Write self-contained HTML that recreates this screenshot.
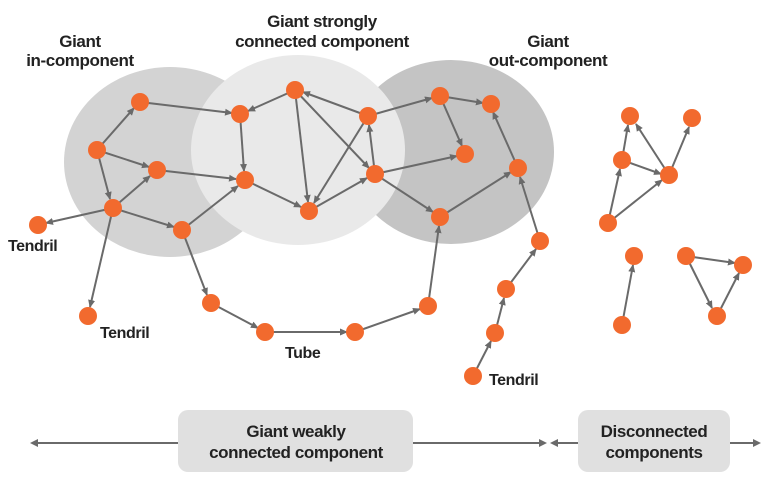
<!DOCTYPE html>
<html><head><meta charset="utf-8"><style>
html,body{margin:0;padding:0;background:#fff;width:772px;height:483px;overflow:hidden}
svg{display:block}
text{font-family:"Liberation Sans Narrow","Liberation Sans",sans-serif;font-weight:bold;fill:#222;letter-spacing:-0.4px}
</style></head><body>
<svg width="772" height="483" viewBox="0 0 772 483" xmlns="http://www.w3.org/2000/svg">
<defs>
<marker id="a" markerWidth="8" markerHeight="8" refX="7" refY="4" orient="auto" markerUnits="userSpaceOnUse">
<path d="M0,0.5 L8,4 L0,7.5 Z" fill="#6a6a6a"/></marker>
</defs>
<ellipse cx="170" cy="162" rx="106" ry="95" fill="#d3d3d3"/>
<ellipse cx="451" cy="152" rx="103" ry="92" fill="#c4c4c4"/>
<ellipse cx="298" cy="150" rx="107" ry="95" fill="#e9e9e9"/>
<g stroke="#6a6a6a" stroke-width="2" fill="none" marker-end="url(#a)">
<line x1="97" y1="150" x2="134" y2="108"/>
<line x1="140" y1="102" x2="232" y2="113"/>
<line x1="97" y1="150" x2="149" y2="167"/>
<line x1="97" y1="150" x2="110" y2="199"/>
<line x1="113" y1="208" x2="150" y2="176"/>
<line x1="157" y1="170" x2="236" y2="179"/>
<line x1="113" y1="208" x2="46" y2="223"/>
<line x1="113" y1="208" x2="174" y2="227"/>
<line x1="182" y1="230" x2="238" y2="186"/>
<line x1="113" y1="208" x2="90" y2="307"/>
<line x1="182" y1="230" x2="207" y2="295"/>
<line x1="240" y1="114" x2="244" y2="171"/>
<line x1="295" y1="90" x2="248" y2="111"/>
<line x1="295" y1="90" x2="308" y2="202"/>
<line x1="295" y1="90" x2="369" y2="168"/>
<line x1="368" y1="116" x2="303" y2="92"/>
<line x1="375" y1="174" x2="369" y2="125"/>
<line x1="368" y1="116" x2="314" y2="203"/>
<line x1="309" y1="211" x2="367" y2="178"/>
<line x1="245" y1="180" x2="301" y2="207"/>
<line x1="368" y1="116" x2="432" y2="98"/>
<line x1="440" y1="96" x2="483" y2="103"/>
<line x1="440" y1="96" x2="462" y2="146"/>
<line x1="375" y1="174" x2="457" y2="156"/>
<line x1="375" y1="174" x2="433" y2="212"/>
<line x1="440" y1="217" x2="511" y2="172"/>
<line x1="518" y1="168" x2="493" y2="112"/>
<line x1="540" y1="241" x2="520" y2="177"/>
<line x1="506" y1="289" x2="536" y2="249"/>
<line x1="495" y1="333" x2="504" y2="298"/>
<line x1="473" y1="376" x2="491" y2="341"/>
<line x1="211" y1="303" x2="258" y2="328"/>
<line x1="265" y1="332" x2="347" y2="332"/>
<line x1="355" y1="332" x2="420" y2="309"/>
<line x1="428" y1="306" x2="439" y2="226"/>
<line x1="622" y1="160" x2="628" y2="125"/>
<line x1="669" y1="175" x2="636" y2="124"/>
<line x1="622" y1="160" x2="661" y2="174"/>
<line x1="608" y1="223" x2="620" y2="169"/>
<line x1="608" y1="223" x2="662" y2="180"/>
<line x1="669" y1="175" x2="689" y2="127"/>
<line x1="622" y1="325" x2="633" y2="265"/>
<line x1="686" y1="256" x2="735" y2="263"/>
<line x1="686" y1="256" x2="712" y2="308"/>
<line x1="717" y1="316" x2="739" y2="273"/>
</g>
<g fill="#f26a2e">
<circle cx="140" cy="102" r="9"/><circle cx="97" cy="150" r="9"/><circle cx="157" cy="170" r="9"/>
<circle cx="113" cy="208" r="9"/><circle cx="38" cy="225" r="9"/><circle cx="182" cy="230" r="9"/>
<circle cx="240" cy="114" r="9"/><circle cx="245" cy="180" r="9"/><circle cx="295" cy="90" r="9"/>
<circle cx="368" cy="116" r="9"/><circle cx="309" cy="211" r="9"/><circle cx="375" cy="174" r="9"/>
<circle cx="440" cy="96" r="9"/><circle cx="491" cy="104" r="9"/><circle cx="465" cy="154" r="9"/>
<circle cx="518" cy="168" r="9"/><circle cx="440" cy="217" r="9"/><circle cx="88" cy="316" r="9"/>
<circle cx="211" cy="303" r="9"/><circle cx="265" cy="332" r="9"/><circle cx="355" cy="332" r="9"/>
<circle cx="428" cy="306" r="9"/><circle cx="540" cy="241" r="9"/><circle cx="506" cy="289" r="9"/>
<circle cx="495" cy="333" r="9"/><circle cx="473" cy="376" r="9"/>
<circle cx="630" cy="116" r="9"/><circle cx="692" cy="118" r="9"/><circle cx="622" cy="160" r="9"/>
<circle cx="669" cy="175" r="9"/><circle cx="608" cy="223" r="9"/><circle cx="634" cy="256" r="9"/>
<circle cx="622" cy="325" r="9"/><circle cx="686" cy="256" r="9"/><circle cx="743" cy="265" r="9"/>
<circle cx="717" cy="316" r="9"/>
</g>
<g font-size="17" text-anchor="middle">
<text x="80" y="47">Giant</text><text x="80" y="66">in-component</text>
<text x="322" y="27">Giant strongly</text><text x="322" y="47">connected component</text>
<text x="548" y="47">Giant</text><text x="548" y="66">out-component</text>
</g>
<g font-size="16">
<text x="8" y="251">Tendril</text><text x="100" y="338">Tendril</text>
<text x="285" y="358">Tube</text><text x="489" y="385">Tendril</text>
</g>
<g stroke="#6a6a6a" stroke-width="2">
<line x1="33" y1="443" x2="545" y2="443"/><line x1="552" y1="443" x2="758" y2="443"/>
</g>
<g fill="#6a6a6a">
<path d="M30,443 L38,439 L38,447Z"/><path d="M547,443 L539,439 L539,447Z"/>
<path d="M550,443 L558,439 L558,447Z"/><path d="M761,443 L753,439 L753,447Z"/>
</g>
<rect x="178" y="410" width="235" height="62" rx="10" fill="#e0e0e0"/>
<rect x="578" y="410" width="152" height="62" rx="10" fill="#e0e0e0"/>
<g font-size="17" text-anchor="middle">
<text x="296" y="437">Giant weakly</text><text x="296" y="458">connected component</text>
<text x="654" y="437">Disconnected</text><text x="654" y="458">components</text>
</g>
</svg>
</body></html>
